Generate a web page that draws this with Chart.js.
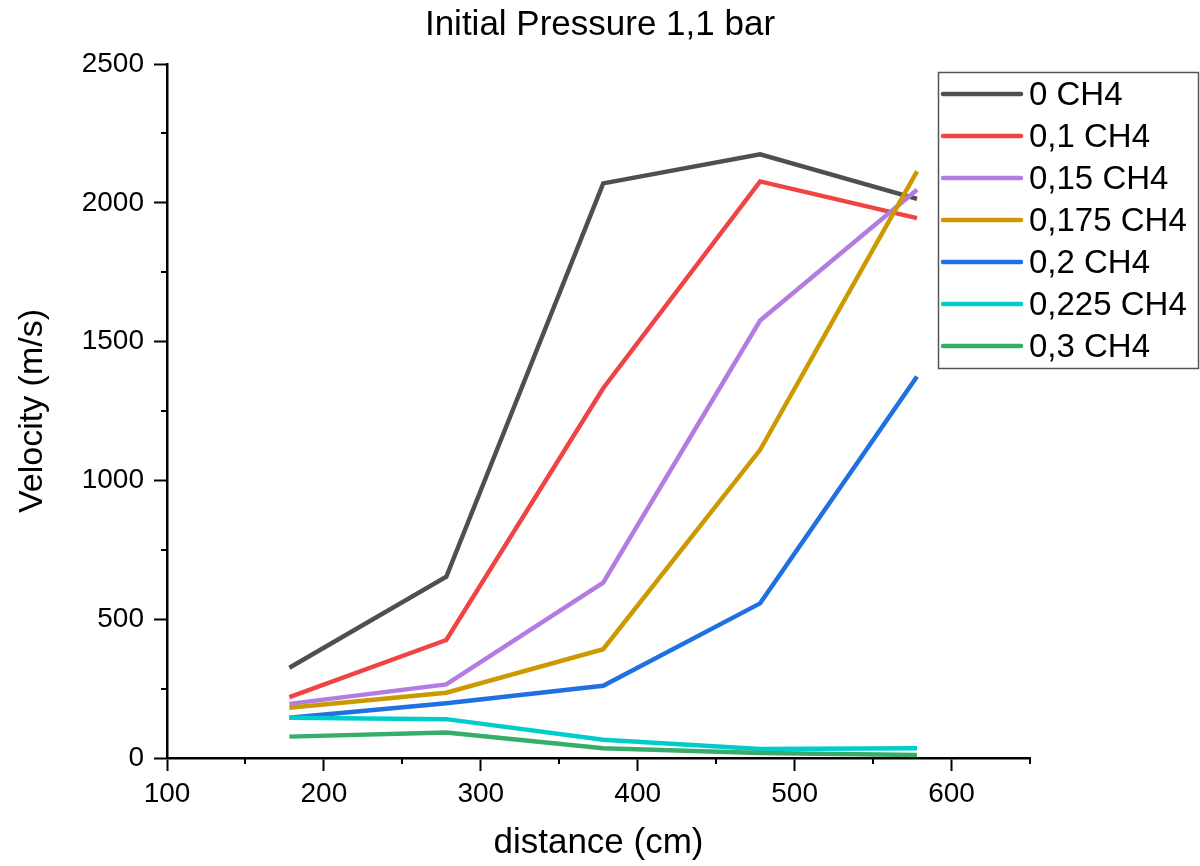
<!DOCTYPE html>
<html>
<head>
<meta charset="utf-8">
<script src="https://cdn.jsdelivr.net/npm/chart.js@4/dist/chart.umd.min.js"></script>
<style>
  html, body { margin: 0; padding: 0; background: #fff; }
  #wrap { width: 1200px; height: 866px; position: relative; }
</style>
</head>
<body>
<div id="wrap"><canvas id="chart" width="1200" height="866"></canvas></div>
<script>
// distance (cm) of each measuring point
const distance = [178, 278, 378, 478, 578];

// velocity (m/s) for each CH4 fraction
const ch4_0 = [325, 653, 2070, 2175, 2014];
const ch4_01 = [219, 425, 1332, 2077, 1945];
const ch4_015 = [195, 265, 632, 1576, 2047];
const ch4_0175 = [181, 235, 392, 1110, 2113];
const ch4_02 = [145, 197, 260, 557, 1374];
const ch4_0225 = [145, 140, 66, 32, 35];
const ch4_03 = [77, 92, 35, 18, 11];

const seriesLabels = ['0 CH4', '0,1 CH4', '0,15 CH4', '0,175 CH4', '0,2 CH4', '0,225 CH4', '0,3 CH4'];
const seriesValues = [ch4_0, ch4_01, ch4_015, ch4_0175, ch4_02, ch4_0225, ch4_03];
const seriesColors = ['#4f4f4f', '#f04444', '#b37ce0', '#cc9a00', '#1f70e0', '#00cccc', '#36ad6b'];

const chartTitle = 'Initial Pressure 1,1 bar';
const FONT = 'Arial, "Liberation Sans", sans-serif';

const datasets = seriesLabels.map((label, i) => ({
    label: label,
    data: distance.map((x, j) => ({ x: x, y: seriesValues[i][j] })),
    borderColor: seriesColors[i],
    backgroundColor: seriesColors[i],
    borderWidth: 4.5,
    pointRadius: 0,
    tension: 0,
    fill: false,
    order: seriesLabels.length - i // later series drawn on top
}));

// short minor ticks between the labelled ones
const minorTicks = {
    id: 'minorTicks',
    afterDraw(chart) {
        const ctx = chart.ctx;
        ctx.save();
        ctx.strokeStyle = '#000';
        ctx.lineWidth = 2;
        const xs = chart.scales.x;
        xs.ticks.forEach(t => {
            if (t.value % 100 !== 0) {
                const px = Math.round(xs.getPixelForValue(t.value));
                ctx.beginPath();
                ctx.moveTo(px, xs.top);
                ctx.lineTo(px, xs.top + 6);
                ctx.stroke();
            }
        });
        const ys = chart.scales.y;
        ys.ticks.forEach(t => {
            if (t.value % 500 !== 0) {
                const py = Math.round(ys.getPixelForValue(t.value));
                ctx.beginPath();
                ctx.moveTo(ys.right, py);
                ctx.lineTo(ys.right - 6, py);
                ctx.stroke();
            }
        });
        ctx.restore();
    }
};

// title centred on the whole page, boxed legend top right
const overlay = {
    id: 'overlay',
    afterDraw(chart) {
        const ctx = chart.ctx;
        ctx.save();
        ctx.fillStyle = '#000';
        ctx.font = '35px ' + FONT;
        ctx.textAlign = 'center';
        ctx.textBaseline = 'middle';
        ctx.fillText(chartTitle, 600, 25);

        const left = 938, top = 72, w = 260, h = 296;
        ctx.strokeStyle = '#555';
        ctx.lineWidth = 1.5;
        ctx.strokeRect(left + 0.5, top + 0.5, w, h);
        ctx.font = '33px ' + FONT;
        ctx.textAlign = 'left';
        chart.data.datasets.forEach((ds, i) => {
            const y = top + 22 + i * 42;
            ctx.strokeStyle = ds.borderColor;
            ctx.lineWidth = 4.5;
            ctx.lineCap = 'round';
            ctx.beginPath();
            ctx.moveTo(943, y);
            ctx.lineTo(1021, y);
            ctx.stroke();
            ctx.fillText(ds.label, 1029, y + 2);
        });
        ctx.restore();
    }
};

new Chart(document.getElementById('chart'), {
    type: 'line',
    data: { datasets: datasets },
    options: {
        responsive: false,
        animation: false,
        layout: { padding: { left: 0, right: 170, top: 64, bottom: 0 } },
        scales: {
            x: {
                type: 'linear',
                min: 100,
                max: 650,
                afterFit: s => { s.height = 108; },
                border: { color: '#000', width: 2.5 },
                grid: {
                    drawOnChartArea: false,
                    drawTicks: true,
                    tickLength: 13,
                    tickWidth: 2,
                    tickColor: c => (c.tick && c.tick.value % 100 === 0) ? '#000' : 'rgba(0,0,0,0)'
                },
                ticks: {
                    stepSize: 50,
                    autoSkip: false,
                    maxRotation: 0,
                    padding: 6,
                    color: '#000',
                    font: { family: FONT, size: 28 },
                    callback: v => v % 100 === 0 ? v : ''
                },
                title: {
                    display: true,
                    text: 'distance (cm)',
                    color: '#000',
                    font: { family: FONT, size: 35 },
                    padding: { top: 0, bottom: 2 }
                }
            },
            y: {
                min: 0,
                max: 2500,
                afterFit: s => { s.width = 167; },
                border: { color: '#000', width: 2.5 },
                grid: {
                    drawOnChartArea: false,
                    drawTicks: true,
                    tickLength: 13,
                    tickWidth: 2,
                    tickColor: c => (c.tick && c.tick.value % 500 === 0) ? '#000' : 'rgba(0,0,0,0)'
                },
                ticks: {
                    stepSize: 250,
                    autoSkip: false,
                    padding: 10,
                    color: '#000',
                    font: { family: FONT, size: 28 },
                    callback: v => v % 500 === 0 ? v : ''
                },
                title: {
                    display: true,
                    text: 'Velocity (m/s)',
                    color: '#000',
                    font: { family: FONT, size: 34 },
                    padding: { top: 12, bottom: 0 }
                }
            }
        },
        plugins: {
            legend: { display: false },
            tooltip: { enabled: false },
            title: { display: false }
        }
    },
    plugins: [minorTicks, overlay]
});
</script>
</body>
</html>
